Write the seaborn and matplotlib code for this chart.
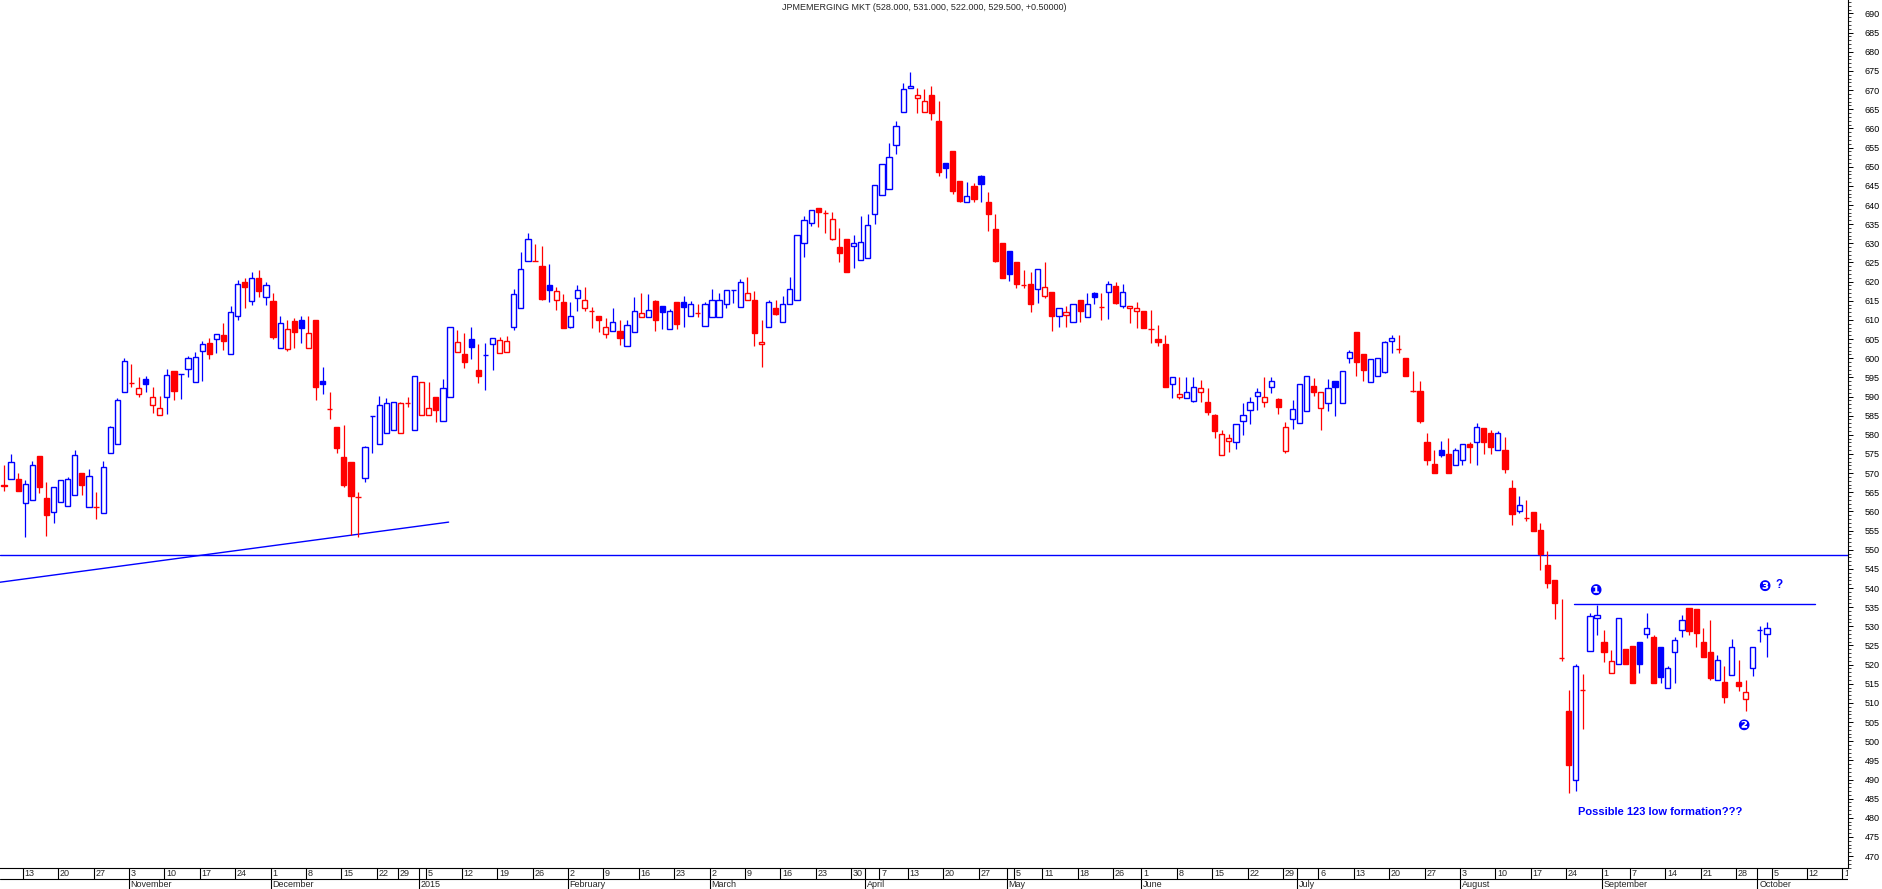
import numpy as np
import pandas as pd
import matplotlib
matplotlib.use("Agg")
import matplotlib.pyplot as plt
import seaborn as sns

# ────────────────────────────────────────────────
# DATA  (daily candles)
# ────────────────────────────────────────────────
TITLE = "JPMEMERGING MKT (528.000, 531.000, 522.000, 529.500, +0.50000)"
FIRST_DAY = "2014-10-08"
UK_HOLIDAYS = ["2014-12-25", "2014-12-26", "2015-01-01", "2015-04-03",
               "2015-04-06", "2015-05-04", "2015-05-25", "2015-08-31"]
PREV_CLOSE = 567.5   # close of the day before the first candle

OPEN = [
    566.9, 568.5, 568.4, 562.1, 563.1, 574.5, 563.5, 559.9, 562.5, 561.5,
    564.2, 569.9, 561.1, 561.1, 559.5, 575.2, 577.5, 591.2, 593.4, 590.6,
    594.5, 587.8, 585.2, 589.9, 596.6, 596.0, 597.2, 593.9, 602.0, 603.9,
    605.1, 606.1, 601.0, 611.0, 620.0, 615.0, 621.0, 616.0, 615.0, 602.6,
    602.3, 609.7, 610.0, 602.6, 610.0, 594.1, 586.8, 582.1, 574.3, 572.9,
    563.8, 568.6, 585.0, 577.5, 580.6, 581.2, 580.6, 588.2, 581.2, 585.2,
    585.2, 590.0, 583.6, 590.0, 601.5, 601.1, 605.0, 596.9, 600.8, 603.6,
    601.3, 601.5, 608.2, 613.0, 625.5, 625.5, 624.1, 619.1, 615.2, 614.8,
    608.2, 615.6, 613.0, 612.2, 611.0, 606.2, 607.1, 607.1, 603.1, 606.8,
    610.7, 610.7, 614.9, 613.6, 607.5, 614.6, 614.6, 611.1, 611.9, 608.5,
    610.8, 610.8, 614.1, 617.9, 613.3, 615.1, 615.1, 603.6, 608.2, 613.0,
    609.5, 614.1, 615.1, 630.2, 635.2, 639.1, 637.8, 631.0, 629.0, 631.1,
    629.3, 625.6, 626.2, 637.6, 642.6, 644.1, 655.7, 664.2, 670.5, 668.0,
    664.2, 668.7, 661.9, 650.9, 654.1, 646.3, 640.7, 644.9, 647.6, 640.9,
    633.7, 630.1, 628.0, 625.1, 619.1, 619.4, 618.0, 616.2, 617.4, 610.9,
    611.2, 609.5, 615.1, 610.7, 616.9, 613.3, 617.2, 618.8, 613.7, 613.0,
    612.3, 612.3, 607.6, 605.0, 603.6, 593.2, 590.0, 589.5, 588.9, 591.1,
    588.5, 585.2, 574.7, 578.4, 578.0, 583.5, 586.5, 590.1, 588.5, 592.5,
    589.3, 575.9, 584.0, 583.0, 586.1, 592.7, 586.9, 588.2, 594.0, 588.2,
    600.0, 606.8, 601.0, 593.9, 595.4, 596.5, 604.6, 602.4, 600.0, 591.5,
    591.4, 578.0, 572.5, 576.0, 575.0, 572.0, 573.4, 577.5, 578.1, 581.9,
    580.4, 576.0, 576.0, 566.1, 560.2, 558.2, 559.9, 555.1, 546.0, 542.1,
    521.8, 507.9, 489.9, 513.4, 523.5, 532.1, 525.8, 517.7, 520.1, 524.2,
    524.8, 525.8, 527.9, 527.1, 524.5, 513.8, 523.2, 529.0, 534.9, 534.4,
    525.8, 523.2, 516.0, 515.4, 517.2, 515.4, 510.9, 519.0, 529.0, 528.0,
]
HIGH = [
    572.1, 575.0, 570.1, 568.2, 573.2, 574.5, 567.6, 566.5, 568.1, 569.0,
    576.0, 569.9, 571.0, 565.1, 573.1, 582.3, 589.5, 600.0, 598.5, 595.0,
    595.4, 592.4, 590.1, 597.1, 596.6, 596.0, 600.6, 601.5, 604.5, 605.2,
    606.2, 609.1, 613.5, 620.5, 621.0, 622.5, 623.0, 620.0, 617.0, 611.0,
    610.0, 610.5, 611.0, 611.0, 610.0, 597.8, 591.3, 582.1, 582.6, 572.9,
    565.1, 577.1, 585.0, 590.1, 589.6, 588.5, 588.6, 589.8, 595.3, 593.9,
    593.9, 590.0, 594.6, 608.2, 607.4, 606.5, 608.2, 603.7, 603.9, 605.2,
    605.6, 605.8, 618.1, 627.8, 632.8, 629.8, 629.3, 624.6, 618.5, 616.7,
    614.8, 619.1, 618.5, 613.3, 611.0, 610.4, 613.0, 610.1, 610.0, 616.0,
    617.1, 616.8, 615.2, 613.6, 612.8, 614.6, 616.2, 614.9, 614.2, 614.6,
    618.1, 617.1, 617.7, 617.9, 620.7, 621.3, 617.5, 610.1, 615.2, 615.2,
    616.2, 621.1, 632.1, 637.1, 638.6, 639.1, 638.6, 638.1, 633.9, 631.1,
    632.2, 637.1, 637.6, 645.1, 650.7, 656.1, 661.9, 671.9, 674.6, 670.5,
    670.3, 671.1, 667.1, 650.9, 654.1, 646.3, 646.1, 645.8, 647.8, 643.5,
    637.6, 630.1, 628.0, 625.1, 623.0, 622.6, 623.2, 625.1, 617.4, 613.0,
    613.6, 614.1, 615.1, 616.9, 617.2, 616.9, 620.2, 620.0, 619.5, 613.7,
    614.6, 612.3, 612.6, 608.7, 606.0, 595.2, 595.2, 595.2, 595.2, 594.3,
    592.1, 585.4, 581.3, 580.2, 582.9, 588.2, 589.8, 592.1, 595.2, 595.2,
    589.5, 583.4, 589.1, 593.2, 595.4, 594.7, 591.1, 594.5, 594.0, 596.6,
    602.1, 606.8, 601.0, 599.7, 600.0, 604.6, 606.1, 606.1, 600.0, 596.7,
    594.0, 580.4, 576.0, 578.4, 579.1, 576.6, 577.5, 578.2, 583.0, 581.9,
    581.3, 581.0, 579.3, 568.2, 564.0, 563.0, 559.9, 556.9, 549.6, 542.1,
    537.1, 513.4, 520.1, 517.5, 533.4, 535.6, 529.0, 523.8, 532.1, 524.2,
    524.8, 525.8, 533.4, 527.7, 524.5, 519.6, 527.1, 532.9, 534.9, 534.4,
    529.5, 531.6, 522.5, 519.6, 526.7, 521.2, 515.9, 524.7, 530.1, 531.0,
]
LOW = [
    565.2, 568.5, 565.2, 553.4, 563.1, 564.9, 553.7, 557.1, 562.5, 561.5,
    564.2, 564.4, 561.1, 558.0, 559.5, 575.2, 577.5, 591.2, 592.6, 589.8,
    591.3, 585.8, 585.2, 585.4, 589.1, 589.3, 595.2, 593.9, 594.0, 599.8,
    601.4, 602.1, 601.0, 610.0, 613.0, 614.0, 616.0, 614.0, 605.0, 602.6,
    601.9, 602.7, 603.9, 602.6, 589.1, 590.7, 584.1, 575.3, 566.3, 553.8,
    553.2, 567.8, 575.2, 577.5, 580.6, 581.2, 580.6, 587.2, 581.2, 585.2,
    585.2, 583.4, 583.6, 590.0, 601.5, 597.5, 599.8, 593.6, 591.7, 596.9,
    601.3, 601.5, 607.4, 613.0, 625.5, 625.5, 615.2, 614.8, 612.6, 607.8,
    607.8, 612.4, 612.2, 608.0, 606.9, 605.4, 607.1, 603.4, 603.1, 606.8,
    610.7, 610.7, 607.1, 607.6, 607.5, 607.6, 608.2, 611.1, 610.8, 608.5,
    610.8, 610.8, 613.2, 614.3, 613.3, 615.1, 603.3, 597.8, 608.2, 611.3,
    609.5, 614.1, 615.1, 626.3, 634.6, 634.3, 632.6, 630.8, 625.2, 622.4,
    623.6, 625.6, 626.2, 635.1, 642.6, 644.1, 653.2, 664.2, 670.5, 664.1,
    664.2, 662.2, 647.7, 647.1, 643.0, 640.7, 640.7, 640.9, 640.9, 633.3,
    625.2, 621.0, 620.2, 618.4, 618.2, 612.1, 614.3, 615.8, 607.1, 608.2,
    608.2, 609.5, 609.5, 610.7, 614.1, 610.0, 610.2, 614.2, 613.2, 609.3,
    608.0, 607.8, 603.9, 603.3, 592.6, 589.7, 589.3, 589.5, 588.6, 588.6,
    585.3, 579.1, 574.7, 575.6, 576.2, 580.0, 582.7, 586.5, 587.2, 590.8,
    585.4, 575.3, 581.4, 583.0, 586.1, 590.1, 581.3, 586.3, 584.9, 588.2,
    598.7, 595.4, 594.1, 593.9, 595.4, 596.1, 601.3, 601.3, 595.4, 591.3,
    583.2, 572.1, 570.1, 574.3, 570.1, 572.0, 572.1, 572.7, 572.1, 575.0,
    575.0, 576.0, 570.1, 556.5, 559.7, 557.6, 555.0, 544.7, 540.1, 532.0,
    521.0, 486.4, 487.1, 503.2, 523.5, 527.7, 520.8, 517.7, 520.1, 520.1,
    515.1, 517.7, 526.9, 515.1, 515.1, 513.8, 515.1, 527.3, 527.6, 524.7,
    522.1, 516.0, 516.0, 510.1, 517.2, 513.2, 508.0, 517.1, 526.0, 522.0,
]
CLOSE = [
    566.7, 573.0, 565.2, 567.1, 572.0, 566.5, 559.1, 566.5, 568.1, 568.5,
    574.6, 567.0, 569.2, 561.1, 571.5, 582.1, 589.1, 599.2, 593.4, 592.1,
    593.2, 589.9, 586.9, 595.6, 591.5, 596.0, 600.0, 600.3, 603.6, 601.0,
    606.2, 604.6, 612.0, 619.5, 618.5, 621.0, 617.5, 619.0, 605.6, 609.1,
    607.5, 606.9, 607.8, 606.7, 592.6, 593.2, 586.8, 576.6, 566.9, 564.1,
    563.8, 576.7, 585.0, 587.7, 588.2, 588.5, 588.3, 588.2, 595.3, 593.9,
    586.9, 586.6, 592.1, 608.2, 604.1, 599.1, 603.0, 595.4, 600.8, 605.2,
    604.7, 604.5, 616.7, 623.2, 631.0, 625.5, 615.5, 617.8, 617.6, 607.8,
    611.0, 617.8, 615.2, 612.2, 610.0, 608.2, 609.5, 605.2, 608.7, 612.2,
    611.7, 612.6, 610.0, 612.1, 612.3, 609.0, 613.3, 614.1, 611.9, 614.1,
    615.2, 615.3, 617.7, 617.9, 620.0, 617.1, 606.7, 604.2, 614.6, 611.6,
    614.1, 618.0, 632.1, 636.2, 638.6, 638.1, 637.8, 636.3, 627.5, 622.6,
    630.2, 630.3, 634.7, 645.1, 650.7, 652.6, 660.7, 670.2, 671.2, 668.6,
    667.2, 664.1, 648.7, 649.6, 643.7, 641.1, 642.4, 641.6, 645.6, 637.7,
    625.4, 621.0, 622.1, 619.5, 619.1, 614.1, 623.2, 618.5, 611.1, 613.0,
    612.1, 614.1, 612.3, 614.1, 616.1, 613.3, 619.5, 614.5, 617.2, 613.7,
    613.0, 607.8, 607.6, 604.1, 592.6, 595.2, 590.6, 591.1, 592.4, 592.1,
    586.0, 581.1, 580.1, 579.1, 582.7, 585.1, 588.5, 591.1, 590.0, 594.0,
    587.2, 582.1, 586.8, 593.2, 595.4, 591.3, 591.1, 592.1, 592.6, 596.6,
    601.5, 599.1, 596.9, 599.7, 600.0, 604.1, 605.2, 602.4, 595.4, 591.5,
    583.6, 573.4, 570.1, 574.6, 570.1, 576.0, 577.5, 576.9, 582.1, 578.2,
    576.7, 580.6, 571.2, 559.2, 561.7, 558.2, 555.0, 549.0, 541.4, 536.0,
    521.8, 493.8, 519.6, 513.4, 532.8, 532.9, 523.4, 521.0, 532.1, 520.1,
    515.1, 520.1, 529.5, 515.1, 516.7, 519.0, 526.4, 531.6, 528.9, 528.2,
    522.1, 516.6, 521.1, 511.6, 524.5, 514.5, 512.9, 524.5, 529.0, 529.5,
]

# hand drawn lines (trading-day index, price)
TREND_X, TREND_Y = [-0.6, 62.8], [541.5, 557.2]
SUPPORT_LEVEL = 548.6
RESIST_X, RESIST_Y = [221.8, 255.8], [535.7, 535.7]

# ────────────────────────────────────────────────
# STYLE / LAYOUT
# ────────────────────────────────────────────────
W, H = 1883, 889
PLOT_W, PLOT_BOTTOM = 1848, 21
BLUE, RED = "#0000ff", "#ff0000"

sns.set_theme(style="white", rc={"axes.edgecolor": "black", "axes.linewidth": 0.8})
plt.rcParams["font.family"] = ["Liberation Sans", "DejaVu Sans"]

fig = plt.figure(figsize=(W / 100, H / 100), dpi=100)
fig.patch.set_facecolor("white")
ax = fig.add_axes([0, PLOT_BOTTOM / H, PLOT_W / W, 1 - PLOT_BOTTOM / H])

n_days = len(OPEN)
cal = pd.bdate_range(FIRST_DAY, "2015-12-31", freq="C", holidays=UK_HOLIDAYS)[:262]
df = pd.DataFrame({"date": cal[:n_days], "open": OPEN, "high": HIGH,
                   "low": LOW, "close": CLOSE})
df["idx"] = np.arange(n_days)
prev = np.r_[PREV_CLOSE, df["close"].values[:-1]]
df["color"] = np.where(df["close"] >= prev, BLUE, RED)
df["face"] = np.where(df["close"] > df["open"], "white", df["color"])

# wicks then bodies
ax.vlines(df["idx"], df["low"], df["high"], colors=df["color"], lw=0.9, zorder=2)
ax.bar(df["idx"], (df["close"] - df["open"]).abs(),
       bottom=df[["open", "close"]].min(axis=1), width=0.74,
       color=df["face"], edgecolor=df["color"], linewidth=1.0, zorder=3)

# lines
ax.axhline(SUPPORT_LEVEL, color=BLUE, lw=1.0, zorder=1)
sns.lineplot(x=TREND_X, y=TREND_Y, ax=ax, color=BLUE, lw=1.0, zorder=1)
sns.lineplot(x=RESIST_X, y=RESIST_Y, ax=ax, color=BLUE, lw=1.0, zorder=1)

# annotations
ann = dict(color=BLUE, fontsize=10.5, fontweight="bold", ha="center", va="center",
           family=["DejaVu Sans"])
ax.text(224.7, 539.2, "\u2776", **ann)
ax.text(245.6, 504.2, "\u2777", **ann)
ax.text(248.7, 540.3, "\u2778", **ann)
ax.text(250.7, 540.7, "?", color=BLUE, fontsize=8.5, fontweight="bold",
        ha="center", va="center")
ax.text(233.9, 481.6, "Possible 123 low formation???", color=BLUE, fontsize=8,
        fontweight="bold", ha="center", va="center")

# axes ranges: candle i centred at 4 + 7.08*i px, price p at 13.5 + (690-p)*3.83 px
x_lo, x_hi = -4 / 7.08, (PLOT_W - 4) / 7.08
ax.set_xlim(x_lo, x_hi)
ax.set_ylim(690 - (H - PLOT_BOTTOM - 13.5) / 3.83, 690 + 13.5 / 3.83)
ax.set_xticks([])
ax.set_yticks(np.arange(470, 691, 5))
ax.set_yticks(np.arange(467, 694, 1), minor=True)
ax.yaxis.tick_right()
ax.tick_params(axis="y", which="major", length=3.6, width=0.7, pad=8.5,
               labelsize=6.5, colors="black", direction="out")
ax.tick_params(axis="y", which="minor", length=1.8, width=0.6, direction="out")
for side in ["left", "top"]:
    ax.spines[side].set_visible(False)
ax.set_xlabel("")
ax.set_ylabel("")

ax.text(0.5, 1 - 7 / (H - PLOT_BOTTOM), TITLE, transform=ax.transAxes,
        ha="center", va="center", fontsize=6.5)

# ────────────────────────────────────────────────
# DATE ROWS UNDER THE CHART
# ────────────────────────────────────────────────
ax_d = fig.add_axes([0, 0, PLOT_W / W, PLOT_BOTTOM / H])
ax_d.set_xlim(x_lo, x_hi)
ax_d.set_ylim(0, PLOT_BOTTOM)
ax_d.axis("off")
ax_d.axhline(10, color="black", lw=0.8)

dates = pd.Series(cal)
week = dates.dt.isocalendar().week.astype(int)
new_week = week.ne(week.shift())
new_month = dates.dt.month.ne(dates.dt.month.shift())
new_week.iloc[0] = new_month.iloc[0] = False

for i, d in dates.items():
    xs = i - 0.35
    if new_week[i] or new_month[i]:
        ax_d.plot([xs, xs], [10, 21], color="black", lw=0.8)
    if new_week[i]:
        ax_d.text(xs + 0.25, 15.3, str(d.day), fontsize=6.5, ha="left",
                  va="center", clip_on=True)
    if new_month[i]:
        ax_d.plot([xs, xs], [0, 10], color="black", lw=0.8)
        label = str(d.year) if d.month == 1 else d.strftime("%B")
        ax_d.text(xs + 0.25, 4.6, label, fontsize=6.5, ha="left",
                  va="center", clip_on=True)

fig.savefig("out.png", dpi=100)
